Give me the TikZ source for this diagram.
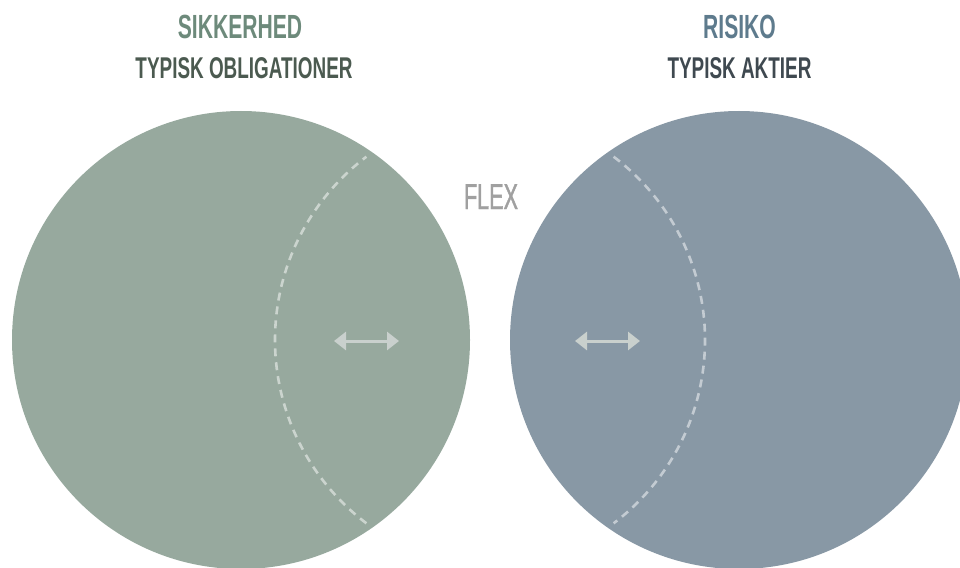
\documentclass[tikz,border=0pt]{standalone}
\usepackage{fontspec}
\usetikzlibrary{arrows.meta}
\newfontfamily\condbold[FakeStretch=0.63]{Liberation Sans Bold}
\newfontfamily\condreg[FakeStretch=0.60,FakeBold=1.2]{Liberation Sans}
\definecolor{safegreen}{HTML}{97A99E}
\definecolor{riskblue}{HTML}{8898A5}
\definecolor{titlegreen}{HTML}{6D8A7B}
\definecolor{subgreen}{HTML}{4B5A50}
\definecolor{titleblue}{HTML}{5E7B8D}
\definecolor{subblue}{HTML}{3F4950}
\definecolor{flexgray}{HTML}{A0A0A0}
\definecolor{lightmark}{HTML}{C9D0CD}
\tikzset{
  title/.style={anchor=base, inner sep=0pt, font=\condbold\fontsize{33.5}{40}\selectfont},
  subtitle/.style={anchor=base, inner sep=0pt, font=\condbold\fontsize{30}{36}\selectfont},
  flexlabel/.style={anchor=base, inner sep=0pt, text=flexgray, font=\condreg\fontsize{36}{42}\selectfont},
  dashedarc/.style={draw=white, draw opacity=0.5, line width=2.6pt, dash pattern=on 8pt off 6pt},
  swing/.style={draw=lightmark, line width=3pt, {Triangle[length=12pt,width=18pt]}-{Triangle[length=12pt,width=18pt]}}
}
\begin{document}
\begin{tikzpicture}[x=1pt,y=-1pt]
\useasboundingbox (0,0) rectangle (960,567);
\clip (0,0) rectangle (960,567);
\fill[white] (0,0) rectangle (960,567);
% circles
\fill[safegreen] (241,340) circle[radius=229];
\fill[riskblue] (739,340) circle[radius=229];
% dashed arcs
\draw[dashedarc] (504.5,340) ++(127:229.5) arc[start angle=127, end angle=233, radius=229.5];
\draw[dashedarc] (475.5,340) ++(-53:229.5) arc[start angle=-53, end angle=53, radius=229.5];
% titles
\node[title, text=titlegreen] (sik) at (240,39) {SIKKERHED};
\node[subtitle, text=subgreen] (obl) at (244,79) {TYPISK OBLIGATIONER};
\node[title, text=titleblue] (ris) at (739.5,39) {RISIKO};
\node[subtitle, text=subblue] (akt) at (739.5,79) {TYPISK AKTIER};
\node[flexlabel] (flex) at (491,209) {FLEX};
% arrows
\coordinate (la) at (334,341);
\coordinate (lb) at (399,341);
\coordinate (ra) at (575,341);
\coordinate (rb) at (640,341);
\draw[swing] (la) -- (lb);
\draw[swing] (ra) -- (rb);
\end{tikzpicture}
\end{document}
